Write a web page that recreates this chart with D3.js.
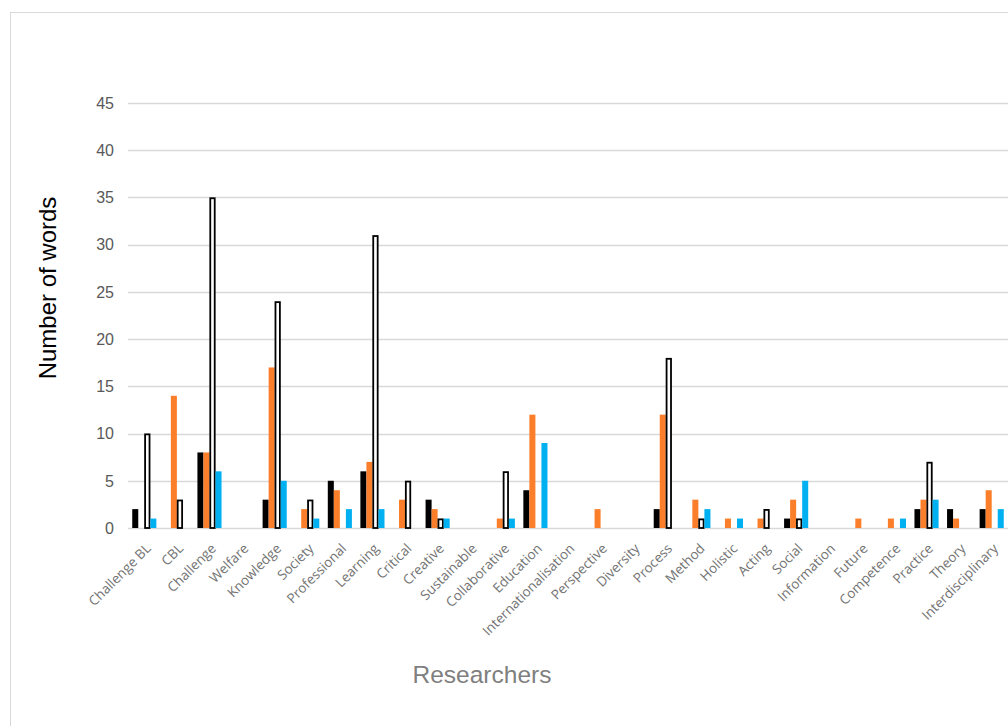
<!DOCTYPE html>
<html>
<head>
<meta charset="utf-8">
<script src="https://cdn.jsdelivr.net/npm/d3@7"></script>
<style>
  html, body { margin: 0; padding: 0; background: #fff; overflow: hidden; }
  svg { display: block; }
</style>
</head>
<body>
<svg id="chart" width="1008" height="726"></svg>
<script>
const categories = ["Challenge BL","CBL","Challenge","Welfare","Knowledge","Society","Professional","Learning","Critical","Creative","Sustainable","Collaborative","Education","Internationalisation","Perspective","Diversity","Process","Method","Holistic","Acting","Social","Information","Future","Competence","Practice","Theory","Interdisciplinary"];
const seriesNames = ["Series 1","Series 2","Series 3","Series 4"];
const series1 = [2,0,8,0,3,0,5,6,0,3,0,0,4,0,0,0,2,0,0,0,1,0,0,0,2,2,2];
const series2 = [0,14,8,0,17,2,4,7,3,2,0,1,12,0,2,0,12,3,1,1,3,0,1,1,3,1,4];
const series3 = [10,3,35,0,24,3,0,31,5,1,0,6,0,0,0,0,18,1,0,2,1,0,0,0,7,0,0];
const series4 = [1,0,6,0,5,1,2,2,0,1,0,1,9,0,0,0,0,2,1,0,5,0,0,1,3,0,2];
const yTicks = [0,5,10,15,20,25,30,35,40,45];

const seriesValues = [series1, series2, series3, series4];
const fills = ["#000000", "#FB7F2A", "#FFFFFF", "#00B0F0"];
const strokes = [null, null, "#000000", null];

const svg = d3.select("#chart");

// chart border
svg.append("rect")
  .attr("x", 10.5).attr("y", 12.5)
  .attr("width", 1100).attr("height", 800)
  .attr("fill", "#fff").attr("stroke", "#d9d9d9").attr("stroke-width", 1);

const plotLeft = 128, plotRight = 1008;
const x0 = d3.scaleBand().domain(categories).range([plotLeft, plotRight])
  .paddingInner(0.26).paddingOuter(0.13);
const x1 = d3.scaleBand().domain(seriesNames).range([0, x0.bandwidth()]);
const y = d3.scaleLinear().domain([0, 45]).range([528, 103]);

// gridlines
svg.append("g").selectAll("line").data(yTicks).join("line")
  .attr("x1", plotLeft).attr("x2", plotRight)
  .attr("y1", d => Math.round(y(d)) + 0.5).attr("y2", d => Math.round(y(d)) + 0.5)
  .attr("stroke", "#d9d9d9").attr("stroke-width", 1.3);

// y tick labels
svg.append("g").selectAll("text").data(yTicks).join("text")
  .attr("x", 114).attr("y", d => y(d))
  .attr("dy", "0.36em")
  .attr("text-anchor", "end")
  .attr("font-family", "Liberation Sans, Arial, sans-serif")
  .attr("font-size", 16)
  .attr("fill", "#595959")
  .text(d => d);

// bars
const barData = [];
categories.forEach((c, i) => {
  seriesNames.forEach((s, j) => {
    const v = seriesValues[j][i];
    if (v > 0) barData.push({c, s, j, v});
  });
});

svg.append("g").selectAll("rect").data(barData).join("rect")
  .attr("x", d => x0(d.c) + x1(d.s) + (d.j === 2 ? 0.8 : 0))
  .attr("y", d => y(d.v) + (d.j === 2 ? 0.8 : 0))
  .attr("width", d => x1.bandwidth() - (d.j === 2 ? 1.6 : 0))
  .attr("height", d => y(0) - y(d.v) - (d.j === 2 ? 0.8 : 0))
  .attr("fill", d => fills[d.j])
  .attr("stroke", d => strokes[d.j] || "none")
  .attr("stroke-width", d => d.j === 2 ? 1.8 : 0);

// x tick labels
svg.append("g").selectAll("text").data(categories).join("text")
  .attr("transform", d => `translate(${x0(d) + x0.bandwidth() / 2 + 4},${546}) rotate(-45)`)
  .attr("text-anchor", "end")
  .attr("dy", "0.35em")
  .attr("font-family", "Open Sans, sans-serif")
  .attr("font-size", 13.5)
  .attr("fill", "#737373")
  .text(d => d);

// axis titles
svg.append("text")
  .attr("transform", "translate(56,288) rotate(-90)")
  .attr("text-anchor", "middle")
  .attr("font-family", "Liberation Sans, Arial, sans-serif")
  .attr("font-size", 24)
  .attr("fill", "#000")
  .text("Number of words");

svg.append("text")
  .attr("x", 482).attr("y", 683)
  .attr("text-anchor", "middle")
  .attr("font-family", "Liberation Sans, Arial, sans-serif")
  .attr("font-size", 24.5)
  .attr("fill", "#7f7f7f")
  .text("Researchers");
</script>
</body>
</html>
